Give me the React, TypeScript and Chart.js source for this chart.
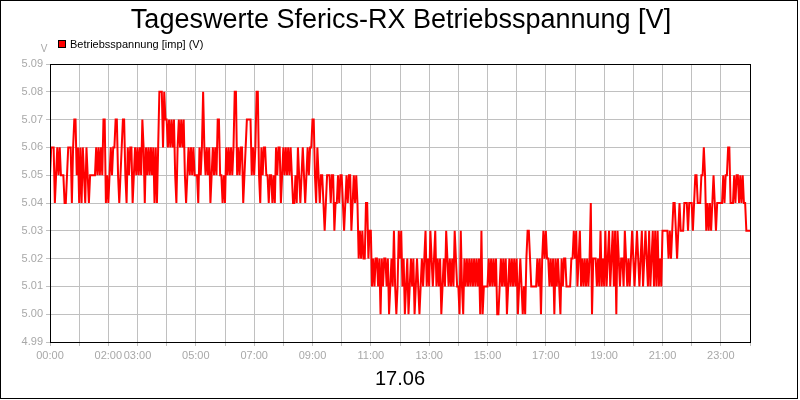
import React, { useEffect, useRef } from "react";
import { Chart, registerables } from "chart.js";

Chart.register(...registerables);

const TITLE = "Tageswerte Sferics-RX Betriebsspannung [V]";
const DATE_LABEL = "17.06";
const SERIES_LABEL = "Betriebsspannung [imp] (V)";
const Y_UNIT = "V";

// 2.5-minute samples, 00:00 .. 24:00 (24 per hour)
const STEP_MINUTES = 2.5;
const volt00to06 = [
  5.05, 5.06, 5.06, 5.06, 5.04, 5.05, 5.06, 5.05, 5.06, 5.05, 5.05, 5.05, 5.04, 5.04, 5.05, 5.06, 5.06, 5.06, 5.04, 5.06, 5.07, 5.07, 5.05, 5.06,
  5.04, 5.06, 5.04, 5.06, 5.05, 5.04, 5.06, 5.05, 5.04, 5.05, 5.05, 5.05, 5.05, 5.05, 5.06, 5.05, 5.06, 5.05, 5.06, 5.05, 5.07, 5.07, 5.04, 5.05,
  5.04, 5.05, 5.06, 5.05, 5.06, 5.06, 5.07, 5.07, 5.05, 5.04, 5.05, 5.06, 5.07, 5.07, 5.05, 5.04, 5.06, 5.05, 5.06, 5.06, 5.04, 5.05, 5.06, 5.05,
  5.06, 5.05, 5.06, 5.05, 5.07, 5.06, 5.04, 5.06, 5.05, 5.06, 5.05, 5.06, 5.05, 5.06, 5.04, 5.06, 5.04, 5.06, 5.08, 5.08, 5.08, 5.06, 5.08, 5.07,
  5.07, 5.06, 5.07, 5.06, 5.07, 5.06, 5.07, 5.05, 5.04, 5.06, 5.07, 5.06, 5.07, 5.06, 5.07, 5.05, 5.04, 5.05, 5.06, 5.05, 5.06, 5.05, 5.06, 5.05,
  5.05, 5.05, 5.04, 5.06, 5.05, 5.06, 5.08, 5.06, 5.05, 5.06, 5.05, 5.06, 5.04, 5.05, 5.06, 5.05, 5.06, 5.05, 5.07, 5.07, 5.05, 5.05, 5.04, 5.05,
];
const volt06to12 = [
  5.04, 5.06, 5.05, 5.06, 5.05, 5.06, 5.05, 5.06, 5.08, 5.08, 5.05, 5.06, 5.05, 5.06, 5.06, 5.04, 5.05, 5.06, 5.07, 5.07, 5.07, 5.07, 5.05, 5.06,
  5.05, 5.06, 5.08, 5.08, 5.05, 5.04, 5.06, 5.05, 5.06, 5.06, 5.05, 5.05, 5.04, 5.05, 5.05, 5.04, 5.05, 5.04, 5.06, 5.05, 5.06, 5.06, 5.04, 5.05,
  5.06, 5.05, 5.06, 5.05, 5.06, 5.05, 5.06, 5.05, 5.04, 5.04, 5.05, 5.04, 5.06, 5.05, 5.04, 5.05, 5.06, 5.05, 5.04, 5.05, 5.06, 5.05, 5.06, 5.06,
  5.07, 5.07, 5.05, 5.04, 5.06, 5.05, 5.04, 5.05, 5.05, 5.04, 5.03, 5.04, 5.05, 5.05, 5.05, 5.04, 5.05, 5.05, 5.03, 5.04, 5.04, 5.05, 5.04, 5.05,
  5.05, 5.04, 5.03, 5.04, 5.05, 5.04, 5.05, 5.05, 5.03, 5.04, 5.05, 5.04, 5.05, 5.04, 5.02, 5.03, 5.02, 5.03, 5.02, 5.02, 5.04, 5.04, 5.02, 5.03,
  5.03, 5.01, 5.02, 5.01, 5.02, 5.02, 5.01, 5.02, 5.00, 5.02, 5.01, 5.02, 5.02, 5.01, 5.02, 5.00, 5.01, 5.02, 5.01, 5.03, 5.01, 5.00, 5.01, 5.03,
];
const volt12to18 = [
  5.02, 5.03, 5.01, 5.02, 5.00, 5.01, 5.02, 5.00, 5.01, 5.02, 5.01, 5.02, 5.00, 5.01, 5.02, 5.01, 5.00, 5.01, 5.02, 5.01, 5.02, 5.03, 5.01, 5.02,
  5.01, 5.03, 5.02, 5.01, 5.02, 5.03, 5.01, 5.02, 5.01, 5.02, 5.00, 5.01, 5.02, 5.01, 5.03, 5.02, 5.01, 5.02, 5.01, 5.02, 5.01, 5.03, 5.02, 5.01,
  5.01, 5.00, 5.03, 5.01, 5.00, 5.02, 5.01, 5.02, 5.01, 5.02, 5.01, 5.02, 5.01, 5.02, 5.01, 5.02, 5.01, 5.02, 5.00, 5.03, 5.00, 5.01, 5.01, 5.01,
  5.01, 5.02, 5.01, 5.02, 5.01, 5.02, 5.01, 5.02, 5.00, 5.00, 5.01, 5.02, 5.01, 5.02, 5.01, 5.02, 5.00, 5.01, 5.02, 5.01, 5.02, 5.01, 5.02, 5.01,
  5.02, 5.00, 5.01, 5.02, 5.01, 5.00, 5.01, 5.00, 5.02, 5.03, 5.03, 5.02, 5.01, 5.01, 5.01, 5.01, 5.01, 5.02, 5.01, 5.02, 5.00, 5.02, 5.03, 5.02,
  5.03, 5.02, 5.02, 5.01, 5.02, 5.01, 5.02, 5.00, 5.02, 5.01, 5.02, 5.01, 5.00, 5.02, 5.01, 5.02, 5.02, 5.01, 5.01, 5.01, 5.01, 5.02, 5.02, 5.03,
];
const volt18to24 = [
  5.02, 5.03, 5.01, 5.02, 5.03, 5.01, 5.02, 5.01, 5.02, 5.01, 5.02, 5.01, 5.02, 5.04, 5.00, 5.02, 5.02, 5.02, 5.01, 5.02, 5.01, 5.03, 5.01, 5.02,
  5.01, 5.03, 5.01, 5.02, 5.03, 5.01, 5.02, 5.03, 5.01, 5.03, 5.00, 5.03, 5.02, 5.01, 5.02, 5.02, 5.01, 5.03, 5.02, 5.01, 5.02, 5.01, 5.02, 5.03,
  5.02, 5.01, 5.02, 5.03, 5.02, 5.01, 5.02, 5.03, 5.01, 5.02, 5.03, 5.02, 5.01, 5.03, 5.01, 5.02, 5.03, 5.01, 5.03, 5.01, 5.03, 5.01, 5.02, 5.01,
  5.03, 5.03, 5.03, 5.03, 5.03, 5.02, 5.03, 5.02, 5.03, 5.04, 5.04, 5.03, 5.02, 5.03, 5.04, 5.03, 5.03, 5.03, 5.04, 5.04, 5.04, 5.03, 5.04, 5.04,
  5.04, 5.03, 5.04, 5.05, 5.05, 5.04, 5.04, 5.04, 5.05, 5.05, 5.06, 5.05, 5.03, 5.04, 5.03, 5.04, 5.03, 5.04, 5.05, 5.04, 5.03, 5.04, 5.04, 5.04,
  5.04, 5.04, 5.05, 5.04, 5.05, 5.05, 5.06, 5.06, 5.04, 5.04, 5.04, 5.05, 5.04, 5.05, 5.05, 5.04, 5.05, 5.04, 5.05, 5.04, 5.04, 5.03, 5.03, 5.03,
  5.03,
];

const Y_MIN = 4.99;
const Y_MAX = 5.09;
const Y_STEP = 0.01;
const X_MAX_MINUTES = 1440;
const LABELED_HOURS = [0, 2, 3, 5, 7, 9, 11, 13, 15, 17, 19, 21, 23];

const GRID = "#c0c0c0";
const TICK_TEXT = "#a8a8a8";
const FONT = "'Liberation Sans', Arial, sans-serif";

export default function App() {
  const ref = useRef<HTMLCanvasElement | null>(null);

  useEffect(() => {
    document.body.style.margin = "0";
    const canvas = ref.current;
    if (!canvas) return;
    const values = [...volt00to06, ...volt06to12, ...volt12to18, ...volt18to24];
    const points = values.map((v, i) => ({ x: i * STEP_MINUTES, y: v }));

    const decor = {
      id: "decor",
      afterDraw(chart: any) {
        const { ctx, chartArea } = chart;
        ctx.save();
        ctx.strokeStyle = "#000";
        ctx.lineWidth = 1;
        ctx.strokeRect(
          chartArea.left + 0.5,
          chartArea.top + 0.5,
          chartArea.right - chartArea.left,
          chartArea.bottom - chartArea.top
        );
        ctx.strokeRect(0.5, 0.5, 797, 398);
        ctx.fillStyle = "#000";
        ctx.textAlign = "center";
        ctx.textBaseline = "alphabetic";
        ctx.font = `27px ${FONT}`;
        ctx.fillText(TITLE, 401, 28);
        ctx.font = `20px ${FONT}`;
        ctx.fillText(DATE_LABEL, 400, 385);
        ctx.fillStyle = TICK_TEXT;
        ctx.font = `10px ${FONT}`;
        ctx.fillText(Y_UNIT, 44, 52);
        ctx.fillStyle = "#ff0000";
        ctx.fillRect(58, 40, 8, 8);
        ctx.strokeStyle = "#000";
        ctx.strokeRect(58.5, 40.5, 7, 7);
        ctx.fillStyle = "#000";
        ctx.textAlign = "left";
        ctx.font = `11px ${FONT}`;
        ctx.fillText(SERIES_LABEL, 70, 48);
        ctx.restore();
      },
    };

    const chart = new Chart(canvas, {
      type: "line",
      data: {
        datasets: [
          {
            label: SERIES_LABEL,
            data: points,
            borderColor: "#ff0000",
            backgroundColor: "#ff0000",
            borderWidth: 2,
            pointRadius: 0,
            tension: 0,
            fill: false,
          },
        ],
      },
      options: {
        animation: false,
        responsive: false,
        maintainAspectRatio: false,
        layout: { padding: { top: 64, right: 50, left: 0, bottom: 0 } },
        plugins: {
          legend: { display: false },
          title: { display: false },
          tooltip: { enabled: false },
        },
        scales: {
          x: {
            type: "linear",
            min: 0,
            max: X_MAX_MINUTES,
            afterFit(scale: any) {
              scale.height = 58;
            },
            border: { display: false },
            grid: { color: GRID, lineWidth: 1, tickLength: 4, drawTicks: true },
            ticks: {
              stepSize: 60,
              autoSkip: false,
              maxRotation: 0,
              minRotation: 0,
              padding: 3,
              color: TICK_TEXT,
              font: { family: FONT, size: 11 },
              callback(value: any) {
                const h = Math.round(Number(value) / 60);
                if (!LABELED_HOURS.includes(h) || Number(value) % 60 !== 0) return "";
                return `${String(h).padStart(2, "0")}:00`;
              },
            },
          },
          y: {
            min: Y_MIN,
            max: Y_MAX,
            afterFit(scale: any) {
              scale.width = 50;
            },
            border: { display: false },
            grid: { color: GRID, lineWidth: 1, tickLength: 4, drawTicks: true },
            ticks: {
              stepSize: Y_STEP,
              padding: 3,
              color: TICK_TEXT,
              font: { family: FONT, size: 11 },
              callback(value: any) {
                return Number(value).toFixed(2);
              },
            },
          },
        },
      },
      plugins: [decor],
    });

    return () => chart.destroy();
  }, []);

  return (
    <div style={{ width: 800, height: 400, background: "#fff" }}>
      <canvas ref={ref} width={800} height={400} style={{ display: "block" }} />
    </div>
  );
}
